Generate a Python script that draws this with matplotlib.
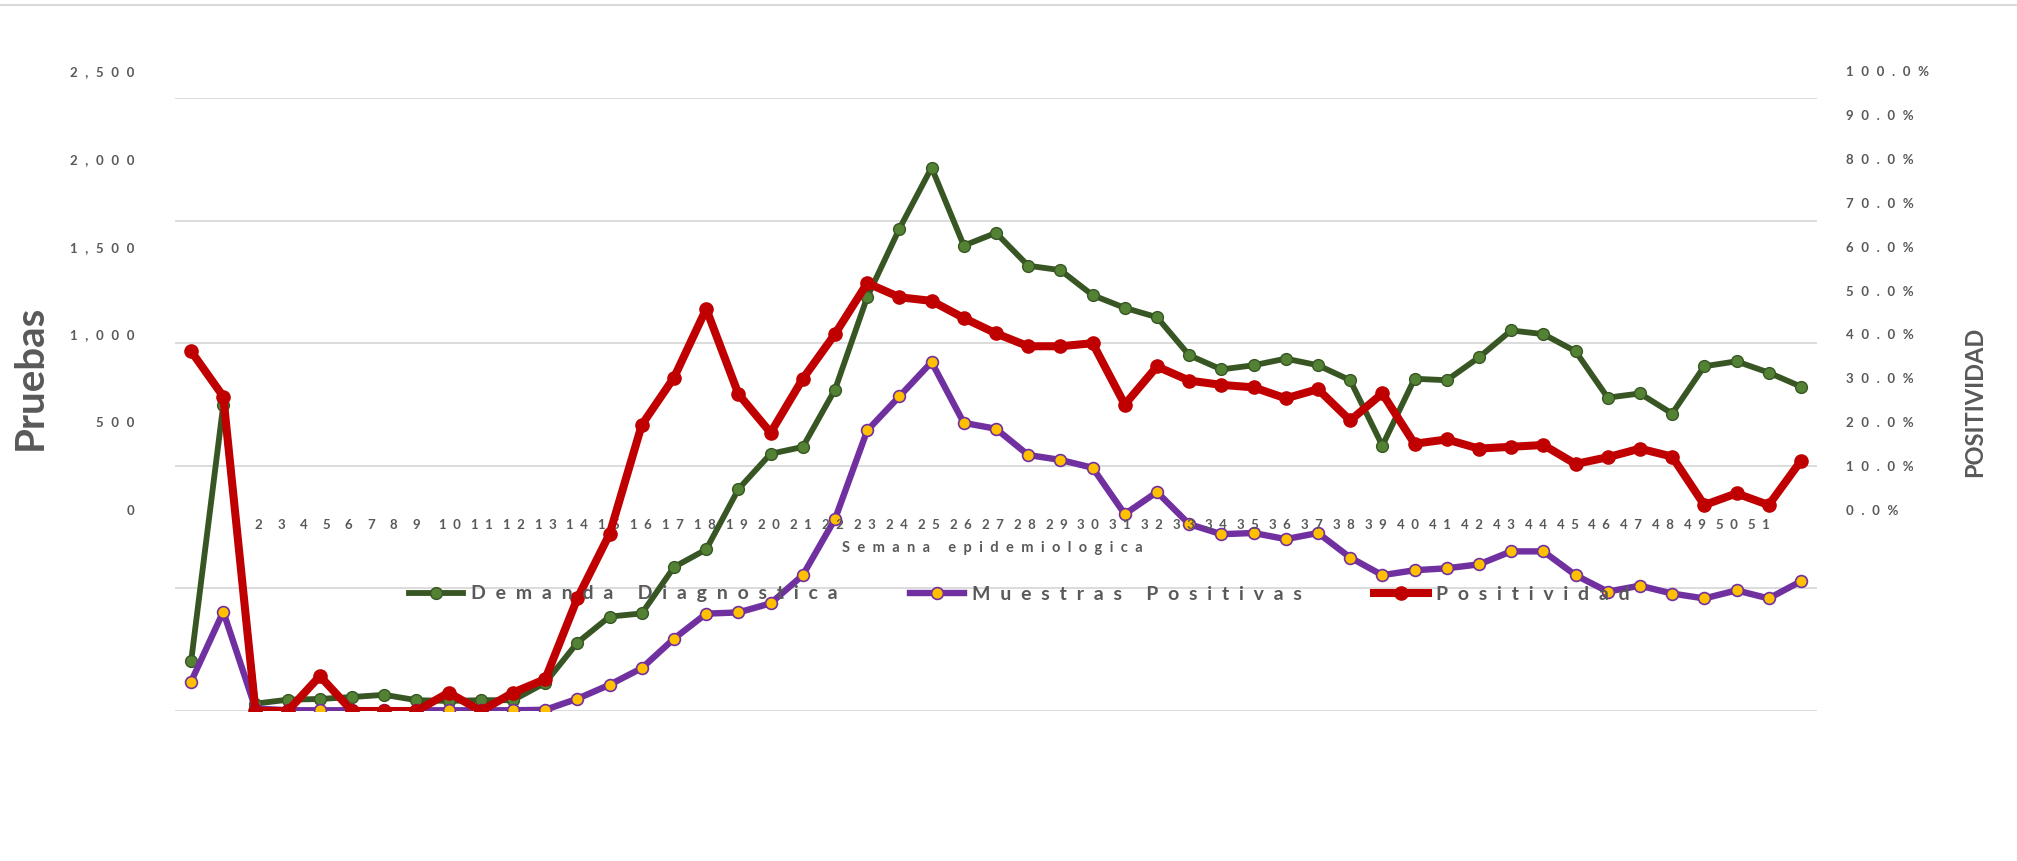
import matplotlib
matplotlib.use("Agg")
import matplotlib.pyplot as plt
from matplotlib.lines import Line2D
from matplotlib.transforms import blended_transform_factory
import numpy as np

plt.rcParams['font.family'] = ['Lato', 'DejaVu Sans']

# ---------------- data ----------------
semanas = list(range(1, 52))  # x-axis category labels
demanda = [202, 1249, 30, 46, 49, 57, 66, 44, 41, 44, 44, 115, 279,
           385, 398, 587, 659, 905, 1049, 1077, 1311, 1688, 1967, 2216, 1898, 1950,
           1816, 1798, 1696, 1644, 1606, 1451, 1393, 1410, 1437, 1410, 1349, 1082, 1355,
           1349, 1442, 1552, 1537, 1467, 1278, 1295, 1213, 1406, 1426, 1380, 1323]
positivas = [120, 405, 10, 3, 3, 3, 3, 3, 3, 3, 3, 5, 50,
             107, 175, 295, 397, 402, 439, 554, 783, 1144, 1283, 1423, 1175, 1151,
             1044, 1024, 992, 803, 893, 762, 721, 726, 701, 726, 626, 554, 574,
             582, 598, 651, 651, 554, 487, 511, 479, 459, 492, 459, 529]
positividad = [58.7, 51.3, 0, 0, 5.7, 0, 0, 0, 3.0, 0, 3.0, 5.2, 18.4,
               28.9, 46.7, 54.4, 65.6, 51.7, 45.4, 54.2, 61.5, 69.8, 67.5, 66.9, 64.1, 61.6,
               59.5, 59.5, 60.0, 50.0, 56.2, 53.9, 53.2, 52.8, 51.0, 52.5, 47.4, 51.8, 43.6,
               44.3, 42.8, 43.1, 43.4, 40.3, 41.4, 42.8, 41.5, 33.6, 35.5, 33.6, 40.8]
left_ticks = [0, 500, 1000, 1500, 2000, 2500]
right_ticks = [0, 10, 20, 30, 40, 50, 60, 70, 80, 90, 100]
series_names = ["Demanda Diagnostica", "Muestras Positivas", "Positividad"]

GRAY = '#595959'
GRID = '#D9D9D9'
W_PX, H_PX = 2017, 861


def spread(s, sep):
    return sep.join(s)


fig = plt.figure(figsize=(W_PX / 100, H_PX / 100), dpi=100)

L, R = 175 / W_PX, 1817 / W_PX
B, T = 1 - 711 / H_PX, 1 - 98 / H_PX

# tick-label axes (the labels sit on their own, offset scale as in the original)
axl = fig.add_axes([L, 1 - 510 / H_PX, R - L, 439 / H_PX])
axl.set_ylim(0, 2500)
axl.set_yticks(left_ticks)
axl.set_yticklabels([spread(f"{v:,}", '\u2007') for v in left_ticks],
                    fontsize=9.5, fontweight='bold', color=GRAY)
axl.tick_params(axis='y', length=0, pad=29)
axl.set_xticks([])
axl.patch.set_visible(False)
for s in axl.spines.values():
    s.set_visible(False)

axr = axl.twinx()
axr.set_ylim(0, 100)
axr.set_yticks(right_ticks)
axr.set_yticklabels([spread(f"{v:.1f}%", '\u2007') for v in right_ticks],
                    fontsize=9.5, fontweight='bold', color=GRAY)
axr.tick_params(axis='y', length=0, pad=21)
axr.patch.set_visible(False)
for s in axr.spines.values():
    s.set_visible(False)

# main plot axes
ax = fig.add_axes([L, B, R - L, T - B])
ax.patch.set_visible(False)
x = np.arange(len(semanas))
ax.set_xlim(-0.5, len(semanas) - 0.5)
ax.set_ylim(0, 2500)
ax.set_yticks(left_ticks)
ax.set_yticklabels([])
ax.set_xticks([])
ax.tick_params(length=0)
ax.grid(axis='y', color=GRID, lw=1.3)
ax.set_axisbelow(True)
for s in ax.spines.values():
    s.set_visible(False)

l1, = ax.plot(x, demanda, color='#375623', lw=4.2, marker='o', ms=8.5,
              mfc='#548235', mec='#375623', mew=1.0, zorder=3)
l2, = ax.plot(x, positivas, color='#7030A0', lw=4.6, marker='o', ms=8.5,
              mfc='#FFC000', mec='#7030A0', mew=1.2, zorder=3)

ax2 = ax.twinx()
ax2.set_ylim(0, 100)
ax2.set_yticks([])
for s in ax2.spines.values():
    s.set_visible(False)
l3, = ax2.plot(x, positividad, color='#C00000', lw=5.8, marker='o', ms=9.5,
               mfc='#C00000', mec='#C00000', zorder=4)

# category labels (offset inside the plot as in the original)
tick_pos = [1.39 + (k - 1) * 0.70 if k < 10 else 8.03 + (k - 10) * 0.992 for k in semanas]
trans = blended_transform_factory(ax.transData, ax.transAxes)
for k, p in zip(semanas, tick_pos):
    ax.text(p, 0.303, spread(str(k), '  '), transform=trans, ha='center', va='center',
            fontsize=9.5, fontweight='bold', color=GRAY)

fig.text(992 / W_PX, 1 - 548 / H_PX, spread("Semana epidemiologica", '\u2002'),
         ha='center', va='center', fontsize=10.5, fontweight='bold', color=GRAY)

fig.text(30 / W_PX, 1 - 377 / H_PX, "Pruebas", rotation=90, ha='center', va='center',
         fontsize=29, fontweight='bold', color=GRAY)
fig.text(1975 / W_PX, 1 - 402 / H_PX, "POSITIVIDAD", rotation=90, ha='center', va='center',
         fontsize=17, fontweight='bold', color=GRAY)

fig.legend([l1, l2, l3], [spread(n, '\u2002') for n in series_names],
           loc='center left', bbox_to_anchor=(409 / W_PX, 1 - 594 / H_PX),
           ncol=3, frameon=False, prop={'size': 14, 'weight': 'bold'}, labelcolor=GRAY,
           handlelength=2.8, handletextpad=0.4, columnspacing=3.7,
           borderpad=0, borderaxespad=0)

fig.add_artist(Line2D([0, 1], [1 - 5 / H_PX, 1 - 5 / H_PX], transform=fig.transFigure,
                      color=GRID, lw=1.5))

fig.savefig("out.png", dpi=100, facecolor='white')
